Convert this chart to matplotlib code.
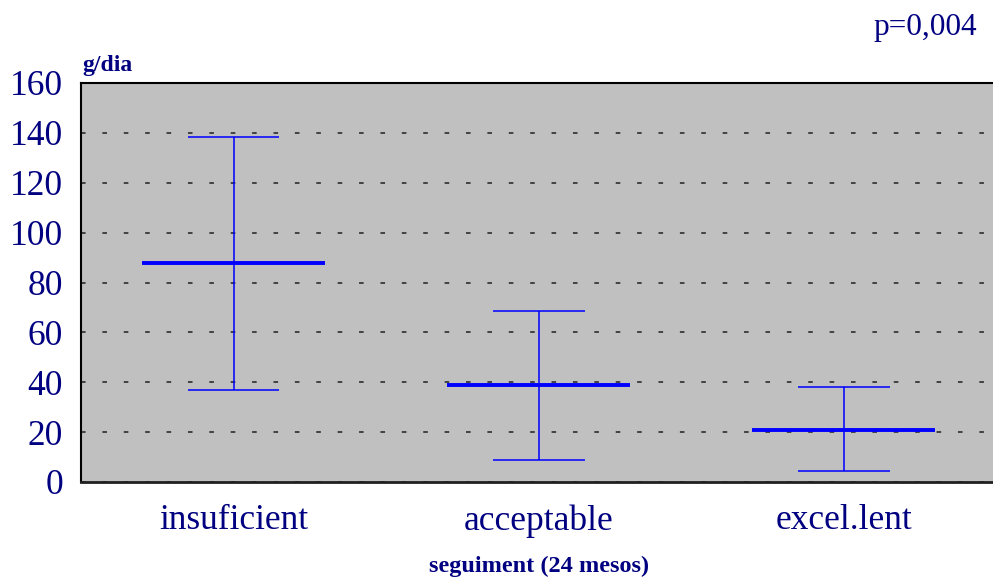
import matplotlib
matplotlib.use('Agg')
import matplotlib.pyplot as plt

# means and ranges per group
grups = ['insuficient', 'acceptable', 'excel.lent']
mitjana = [88, 39, 21]
maxim = [138.5, 68.5, 38]
minim = [37, 9, 4.5]

navy = '#000080'
blau = '#0000FF'

fig = plt.figure(figsize=(9.93, 5.77), dpi=100)
ax = fig.add_axes([81/993, 95/577, 915.5/993, 399/577])
ax.set_facecolor('#C0C0C0')

x = list(range(len(grups)))

# whiskers, caps and mean line
ax.vlines(x, minim, maxim, color=blau, lw=1.1, zorder=3)
ax.hlines(maxim, [i - 0.15 for i in x], [i + 0.15 for i in x], color=blau, lw=1.1, zorder=3)
ax.hlines(minim, [i - 0.15 for i in x], [i + 0.15 for i in x], color=blau, lw=1.1, zorder=3)
ax.hlines(mitjana, [i - 0.3 for i in x], [i + 0.3 for i in x], color=blau, lw=2.8, zorder=4)

ax.set_xlim(-0.5, 2.5)
ax.set_ylim(0, 160)
ax.set_yticks(range(0, 161, 20))
ax.set_xticks(x)
ax.set_xticklabels(grups)

ax.yaxis.grid(True, color='#202020', lw=1.1, linestyle=(0, (3, 11)))
ax.set_axisbelow(True)

for s in ['left', 'top']:
    ax.spines[s].set_color('black')
    ax.spines[s].set_linewidth(1.5)
ax.spines['bottom'].set_color('#202020')
ax.spines['bottom'].set_linewidth(2)
ax.spines['right'].set_visible(False)

ax.tick_params(axis='both', length=0, labelcolor=navy, labelsize=25.5)
ax.tick_params(axis='y', pad=13)
ax.tick_params(axis='x', pad=16)
for t in ax.get_xticklabels() + ax.get_yticklabels():
    t.set_fontfamily('Liberation Serif')

fig.text(82/993, 1 - 65/577, 'g/dia', fontfamily='Liberation Serif', fontweight='bold',
         fontsize=17, color=navy, va='center', ha='left')
fig.text(539/993, 1 - 566/577, 'seguiment (24 mesos)', fontfamily='Liberation Serif',
         fontweight='bold', fontsize=17.5, color=navy, va='center', ha='center')
fig.text(977/993, 1 - 28/577, 'p=0,004', fontfamily='Liberation Serif',
         fontsize=22.5, color=navy, va='center', ha='right')

fig.savefig('out.png', dpi=100)
